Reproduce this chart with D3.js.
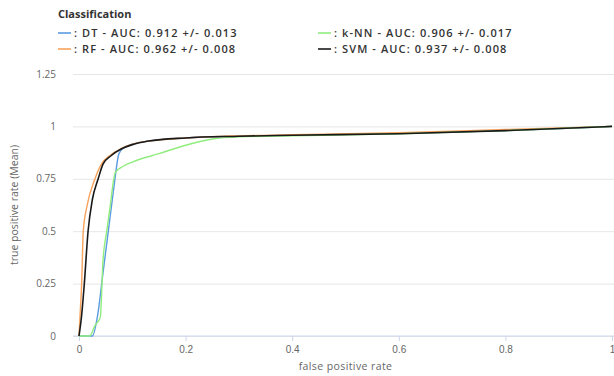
<!DOCTYPE html>
<html>
<head>
<meta charset="utf-8">
<script src="https://cdn.jsdelivr.net/npm/d3@7"></script>
<style>
  body { margin: 0; background: #fff; }
  svg { font-family: "Open Sans", "DejaVu Sans", sans-serif; }
  .grid line { stroke: #e6e6e6; }
  .grid path { display: none; }
  .tick text { fill: #666; font-size: 10px; }
</style>
</head>
<body>
<div id="chart"></div>
<script>
// series names and legend text
const seriesNames = ['DT', 'RF', 'k-NN', 'SVM']
const legendLabels = [
  ': DT - AUC: 0.912 +/- 0.013',
  ': RF - AUC: 0.962 +/- 0.008',
  ': k-NN - AUC: 0.906 +/- 0.017',
  ': SVM - AUC: 0.937 +/- 0.008'
]
const colors = ['#5b9be0', '#f7a35c', '#90ed7d', '#1a1a1a']

// mean ROC curves
const dtFpr = [0, 0.025, 0.035, 0.045, 0.055, 0.065, 0.075, 0.085, 0.1, 0.13, 0.2, 0.3, 0.4, 0.6, 0.8, 1]
const dtTpr = [0, 0, 0.1, 0.3, 0.5, 0.7, 0.87, 0.9, 0.915, 0.93, 0.945, 0.953, 0.958, 0.966, 0.98, 1]
const rfFpr = [0, 0.002, 0.005, 0.008, 0.015, 0.03, 0.042, 0.06, 0.08, 0.1, 0.15, 0.2, 0.3, 0.4, 0.6, 0.8, 1]
const rfTpr = [0, 0.1, 0.25, 0.5, 0.62, 0.75, 0.82, 0.865, 0.895, 0.915, 0.935, 0.945, 0.955, 0.96, 0.97, 0.985, 1]
const knnFpr = [0, 0.02, 0.03, 0.04, 0.045, 0.052, 0.058, 0.068, 0.083, 0.1, 0.15, 0.2, 0.25, 0.3, 0.4, 0.6, 0.8, 1]
const knnTpr = [0, 0, 0.05, 0.09, 0.36, 0.5, 0.61, 0.78, 0.81, 0.83, 0.87, 0.91, 0.94, 0.95, 0.955, 0.965, 0.98, 1]
const svmFpr = [0, 0.005, 0.01, 0.017, 0.025, 0.036, 0.045, 0.06, 0.08, 0.1, 0.13, 0.2, 0.3, 0.4, 0.6, 0.8, 1]
const svmTpr = [0, 0.1, 0.25, 0.5, 0.65, 0.75, 0.82, 0.86, 0.893, 0.913, 0.93, 0.945, 0.953, 0.958, 0.965, 0.98, 1]

const xTicks = [0, 0.2, 0.4, 0.6, 0.8, 1]
const yTicks = [0, 0.25, 0.5, 0.75, 1, 1.25]

const curves = [
  [dtFpr, dtTpr],
  [rfFpr, rfTpr],
  [knnFpr, knnTpr],
  [svmFpr, svmTpr]
]

const width = 614
const height = 376
const plot = { left: 79, right: 612, top: 74, bottom: 336, gridLeft: 73 }

const svg = d3.select('#chart').append('svg')
  .attr('width', width)
  .attr('height', height)

const x = d3.scaleLinear().domain([0, 1]).range([plot.left, plot.right])
const y = d3.scaleLinear().domain([0, 1.25]).range([plot.bottom, plot.top])

// horizontal grid
svg.append('g')
  .attr('class', 'grid')
  .attr('transform', `translate(${plot.gridLeft},0)`)
  .call(d3.axisLeft(y).tickValues(yTicks).tickSize(-(width - plot.gridLeft)).tickFormat(''))

// y tick labels
svg.append('g')
  .selectAll('text')
  .data(yTicks)
  .enter()
  .append('text')
  .attr('x', 56)
  .attr('y', d => y(d) + 3.5)
  .attr('text-anchor', 'end')
  .attr('fill', '#666')
  .attr('font-size', 10)
  .text(d => d3.format('~g')(d))

// x axis
const xAxis = svg.append('g')
  .attr('transform', `translate(0,${plot.bottom})`)
  .call(d3.axisBottom(x).tickValues(xTicks).tickSize(5).tickPadding(5).tickFormat(d3.format('~g')))
xAxis.select('.domain').attr('stroke', '#ccd6eb').attr('d', `M${plot.gridLeft},0H${width}`)
xAxis.selectAll('.tick line').attr('stroke', '#ccd6eb')

// axis titles
svg.append('text')
  .attr('x', (plot.left + plot.right) / 2)
  .attr('y', 370)
  .attr('text-anchor', 'middle')
  .attr('fill', '#666')
  .attr('font-size', 10.5)
  .attr('letter-spacing', 0.4)
  .text('false positive rate')

svg.append('text')
  .attr('transform', `translate(18,${(plot.top + plot.bottom) / 2}) rotate(-90)`)
  .attr('text-anchor', 'middle')
  .attr('fill', '#666')
  .attr('font-size', 10.5)
  .text('true positive rate (Mean)')

// curves
const line = d3.line()
  .x(d => x(d[0]))
  .y(d => y(d[1]))
  .curve(d3.curveMonotoneX)

curves.forEach((c, i) => {
  svg.append('path')
    .datum(c[0].map((f, j) => [f, c[1][j]]))
    .attr('fill', 'none')
    .attr('stroke', colors[i])
    .attr('stroke-width', i === 3 ? 1.6 : 1.4)
    .attr('d', line)
})

// legend
svg.append('text')
  .attr('x', 58)
  .attr('y', 18)
  .attr('font-size', 11)
  .attr('font-weight', 'bold')
  .attr('fill', '#333')
  .text('Classification')

const legendPos = [[58, 33], [58, 49], [318, 33], [318, 49]]
seriesNames.forEach((name, i) => {
  const [lx, ly] = legendPos[i]
  svg.append('line')
    .attr('x1', lx).attr('x2', lx + 13)
    .attr('y1', ly).attr('y2', ly)
    .attr('stroke', colors[i])
    .attr('stroke-width', 1.6)
  svg.append('text')
    .attr('x', lx + 16)
    .attr('y', ly + 4)
    .attr('font-size', 11)
    .attr('font-weight', 600)
    .attr('letter-spacing', 1.1)
    .attr('fill', '#333')
    .text(legendLabels[i])
})
</script>
</body>
</html>
